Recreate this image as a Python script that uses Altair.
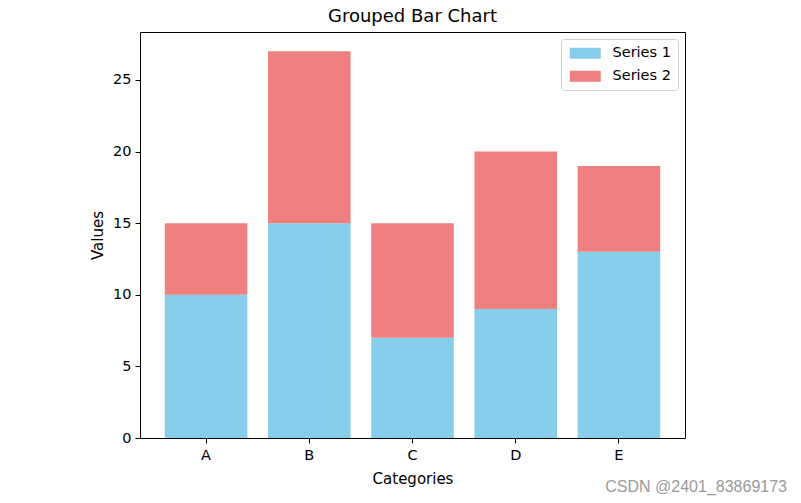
import altair as alt
import pandas as pd

categories = ["A", "B", "C", "D", "E"]
series1 = [10, 15, 7, 9, 13]
series2 = [5, 12, 8, 11, 6]
series_names = ["Series 1", "Series 2"]
colors = ["#87CEEB", "#F08080"]

rows = []
for c, v in zip(categories, series1):
    rows.append({"category": c, "series": series_names[0], "value": v, "order": 0})
for c, v in zip(categories, series2):
    rows.append({"category": c, "series": series_names[1], "value": v, "order": 1})
df = pd.DataFrame(rows)

FONT = "DejaVu Sans"

bars = alt.Chart(df).mark_bar(strokeWidth=0).encode(
    x=alt.X("category:N", title="Categories",
            scale=alt.Scale(paddingInner=0.2, paddingOuter=0.24),
            axis=alt.Axis(labelAngle=0, labelFontSize=14.5, titleFontSize=15,
                          titleFontWeight="normal", tickSize=5, labelPadding=5,
                          titlePadding=10, domain=False, tickColor="black",
                          labelColor="black", titleColor="black", labelFont=FONT, titleFont=FONT)),
    y=alt.Y("value:Q", stack="zero", title="Values",
            scale=alt.Scale(domain=[0, 28.35], nice=False),
            axis=alt.Axis(values=[0, 5, 10, 15, 20, 25], grid=False, labelFontSize=14.5,
                          titleFontSize=15, titleFontWeight="normal", tickSize=5,
                          labelPadding=4, titlePadding=7, domain=False, tickColor="black",
                          labelColor="black", titleColor="black", labelFont=FONT, titleFont=FONT)),
    color=alt.Color("series:N", scale=alt.Scale(domain=series_names, range=colors),
                    legend=alt.Legend(title=None, orient="none", legendX=421, legendY=7,
                                      symbolType="M-1,-1L4.636,-1L4.636,1L-1,1Z",
                                      symbolSize=121, symbolStrokeWidth=0, symbolOpacity=1,
                                      labelFontSize=14.5, labelFont=FONT, labelColor="black",
                                      labelOffset=30, rowPadding=8, padding=7,
                                      strokeColor="#d0d0d0", cornerRadius=3, fillColor="white")),
    order=alt.Order("order:Q", sort="ascending"),
)

wm_df = pd.DataFrame({"t": ["CSDN @2401_83869173"]})
watermark = alt.Chart(wm_df).mark_text(
    fontSize=16, font="Liberation Sans", color="#9a9a9a", align="right", baseline="alphabetic"
).encode(x=alt.value(647), y=alt.value(460), text="t:N")

chart = alt.layer(bars, watermark).properties(
    width=545, height=406,
    background="white",
    title=alt.TitleParams("Grouped Bar Chart", fontSize=18, fontWeight="normal", font=FONT,
                          color="black", offset=6),
    autosize=alt.AutoSizeParams(type="none"),
    padding={"left": 132, "top": 24, "right": 108, "bottom": 70},
).configure_view(stroke="black", strokeWidth=1)

chart.save("out.html", embed_options={"renderer": "svg", "actions": False})
